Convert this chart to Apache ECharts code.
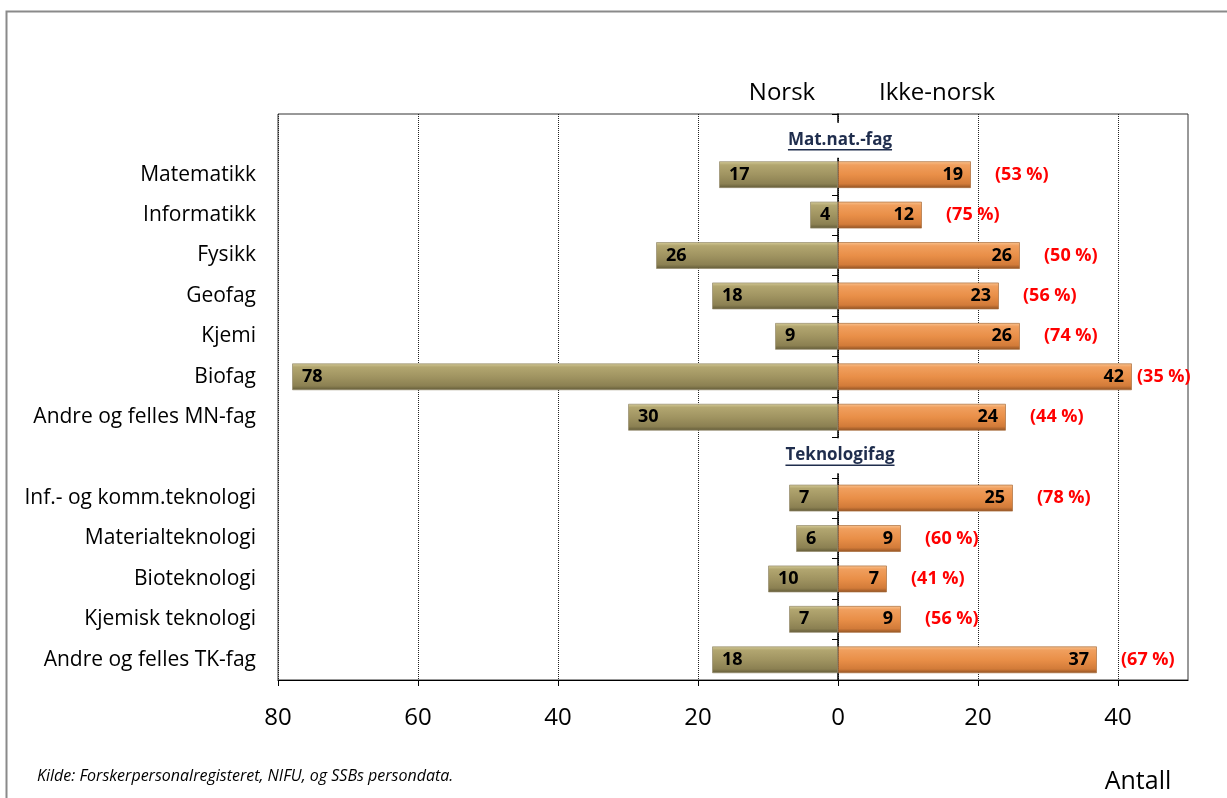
<!DOCTYPE html>
<html>
<head>
<meta charset="utf-8">
<script src="https://cdn.jsdelivr.net/npm/echarts@6/dist/echarts.min.js"></script>
<style>
html,body{margin:0;padding:0;background:#fff;}
#c{width:1227px;height:798px;}
</style>
</head>
<body>
<div id="c"></div>
<script>
// ---- data ----
const headers = ['Mat.nat.-fag', 'Teknologifag'];
const mnCategories = ['Matematikk', 'Informatikk', 'Fysikk', 'Geofag', 'Kjemi', 'Biofag', 'Andre og felles MN-fag'];
const mnNorsk = [17, 4, 26, 18, 9, 78, 30];
const mnIkkeNorsk = [19, 12, 26, 23, 26, 42, 24];
const mnPct = [53, 75, 50, 56, 74, 35, 44];
const tkCategories = ['Inf.- og komm.teknologi', 'Materialteknologi', 'Bioteknologi', 'Kjemisk teknologi', 'Andre og felles TK-fag'];
const tkNorsk = [7, 6, 10, 7, 18];
const tkIkkeNorsk = [25, 9, 7, 9, 37];
const tkPct = [78, 60, 41, 56, 67];
const xTickValues = [-80, -60, -40, -20, 0, 20, 40];
const sourceText = 'Kilde: Forskerpersonalregisteret, NIFU, og SSBs persondata.';

// ---- build ----
const categories = [headers[0], ...mnCategories, headers[1], ...tkCategories];
const norsk = [null, ...mnNorsk, null, ...tkNorsk];
const ikke = [null, ...mnIkkeNorsk, null, ...tkIkkeNorsk];
const pct = [null, ...mnPct, null, ...tkPct];

const FONT = '"Open Sans", "Noto Sans", "Liberation Sans", sans-serif';

const olive = new echarts.graphic.LinearGradient(0, 0, 0, 1, [
  {offset: 0, color: '#d6cd9a'},
  {offset: 0.14, color: '#b2a670'},
  {offset: 0.5, color: '#a09461'},
  {offset: 0.84, color: '#8b8052'},
  {offset: 1, color: '#5f5836'}
]);
const orange = new echarts.graphic.LinearGradient(0, 0, 0, 1, [
  {offset: 0, color: '#fbc592'},
  {offset: 0.14, color: '#f09f5e'},
  {offset: 0.5, color: '#e98f48'},
  {offset: 0.84, color: '#d27b39'},
  {offset: 1, color: '#8c4f22'}
]);

const chart = echarts.init(document.getElementById('c'), null, {renderer: 'canvas'});

const option = {
  animation: false,
  backgroundColor: '#fff',
  grid: {
    left: 278, right: 39, top: 114, bottom: 118,
    show: true, borderColor: '#333', borderWidth: 1,
    containLabel: false, outerBoundsMode: 'none'
  },
  xAxis: {
    type: 'value', min: -80, max: 50, interval: 20,
    axisLine: {show: true, onZero: false, lineStyle: {color: '#000', width: 1.2}},
    axisTick: {show: true, length: 6, lineStyle: {color: '#000'}, customValues: xTickValues},
    axisLabel: {
      fontSize: 24, color: '#000', fontFamily: FONT, margin: 26,
      customValues: xTickValues,
      formatter: v => (v === 50 ? '' : String(Math.abs(v)))
    },
    splitLine: {show: true, lineStyle: {type: 'dotted', color: '#222', width: 1}}
  },
  yAxis: [
    {
      type: 'category', data: categories, inverse: true, position: 'left',
      axisLine: {show: false, onZero: false},
      axisTick: {show: false},
      splitLine: {show: false},
      axisLabel: {
        fontSize: 21, color: '#000', fontFamily: FONT, margin: 22,
        formatter: v => (headers.indexOf(v) >= 0 ? '' : v)
      }
    },
    {
      type: 'category', data: categories, inverse: true, position: 'left',
      axisLine: {show: true, onZero: true, lineStyle: {color: '#000', width: 1.5}},
      axisTick: {show: true, length: 6, lineStyle: {color: '#000', width: 1}},
      axisLabel: {show: false},
      splitLine: {show: false}
    }
  ],
  series: [
    {
      name: 'Norsk', type: 'bar', yAxisIndex: 0,
      data: norsk.map(v => (v == null ? null : -v)),
      barWidth: 27, barGap: '-100%',
      itemStyle: {color: olive, borderColor: 'rgba(150,140,110,0.7)', borderWidth: 1},
      label: {
        show: true, position: 'insideLeft', distance: 10,
        formatter: p => Math.abs(p.value),
        fontSize: 18, fontWeight: 'bold', color: '#000', fontFamily: FONT
      },
      z: 3
    },
    {
      name: 'Ikke-norsk', type: 'bar', yAxisIndex: 0,
      data: ikke,
      barWidth: 27, barGap: '-100%',
      itemStyle: {color: orange, borderColor: 'rgba(170,110,60,0.7)', borderWidth: 1},
      label: {
        show: true, position: 'insideRight', distance: 8,
        fontSize: 18, fontWeight: 'bold', color: '#000', fontFamily: FONT
      },
      z: 3
    },
    {
      name: 'pct', type: 'bar', yAxisIndex: 0, silent: true,
      data: ikke.map(v => (v == null ? null : {
        value: v,
        label: {distance: v > 40 ? 5 : 24}
      })),
      barWidth: 27, barGap: '-100%',
      itemStyle: {color: 'rgba(0,0,0,0)'},
      label: {
        show: true, position: 'right',
        formatter: p => '(' + pct[p.dataIndex] + ' %)',
        fontSize: 18, fontWeight: 'bold', color: '#ff0000', fontFamily: FONT
      },
      z: 4
    }
  ]
};

chart.setOption(option);

// ---- texts around the plot ----
const x0 = chart.convertToPixel({xAxisIndex: 0}, 0);
const ctx = document.createElement('canvas').getContext('2d');
const headerFont = 'bold 17px ' + FONT;
ctx.font = headerFont;

const graphics = [
  {
    type: 'rect', silent: true, z: 0,
    shape: {x: 6.5, y: 11.5, width: 1300, height: 900},
    style: {fill: 'none', stroke: '#8a8a8a', lineWidth: 2}
  },
  {
    type: 'text', silent: true, z: 10,
    style: {text: 'Norsk', x: x0 - 56, y: 93, align: 'center', verticalAlign: 'middle',
      textAlign: 'center', textVerticalAlign: 'middle', font: '24px ' + FONT, fill: '#000'}
  },
  {
    type: 'text', silent: true, z: 10,
    style: {text: 'Ikke-norsk', x: x0 + 99, y: 93, align: 'center', verticalAlign: 'middle',
      textAlign: 'center', textVerticalAlign: 'middle', font: '24px ' + FONT, fill: '#000'}
  },
  {
    type: 'text', silent: true, z: 10,
    style: {text: 'Antall', x: 1138, y: 782, align: 'center', verticalAlign: 'middle',
      textAlign: 'center', textVerticalAlign: 'middle', font: '25px ' + FONT, fill: '#000'}
  },
  {
    type: 'text', silent: true, z: 10,
    style: {text: sourceText, x: 37, y: 776, align: 'left', verticalAlign: 'middle',
      textAlign: 'left', textVerticalAlign: 'middle', font: 'italic 16px ' + FONT, fill: '#000'}
  }
];

headers.forEach((h, i) => {
  const y = chart.convertToPixel({yAxisIndex: 0}, h) + (i === 0 ? 6 : -2);
  const w = ctx.measureText(h).width;
  const cx = x0 + 2;
  graphics.push({
    type: 'text', silent: true, z: 20,
    style: {text: h, x: cx, y: y, align: 'center', verticalAlign: 'middle',
      textAlign: 'center', textVerticalAlign: 'middle', font: headerFont, fill: '#1f2d4d',
      backgroundColor: '#fff', padding: [9, 4]}
  });
  graphics.push({
    type: 'line', silent: true, z: 21,
    shape: {x1: cx - w / 2, y1: y + 9.5, x2: cx + w / 2, y2: y + 9.5},
    style: {stroke: '#1f2d4d', lineWidth: 1.5}
  });
});

chart.setOption({graphic: graphics});
</script>
</body>
</html>
